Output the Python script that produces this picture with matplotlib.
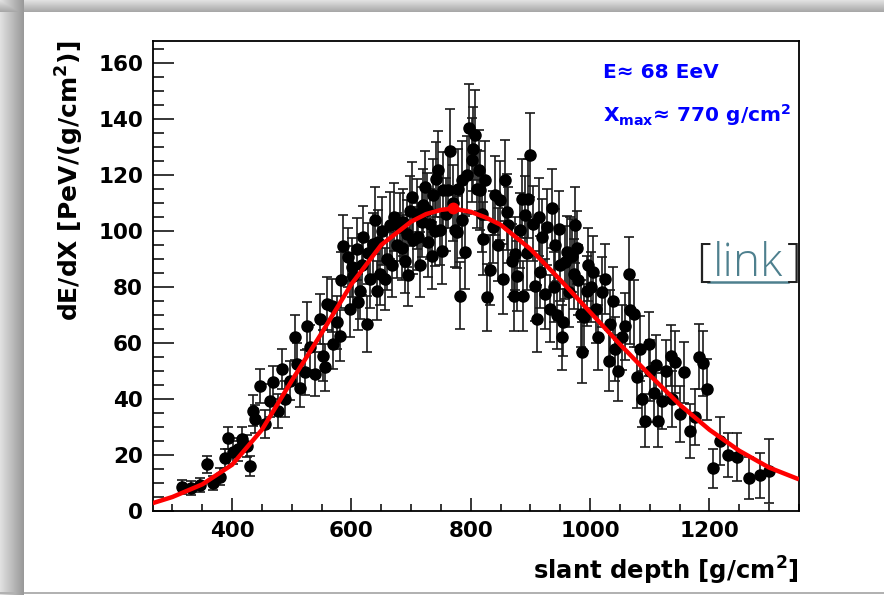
"""
Energy deposit profile of an air shower with its profile fit.
"""
import numpy as np
import matplotlib
matplotlib.use("Agg")
import matplotlib.pyplot as plt
from matplotlib.ticker import MultipleLocator


# Measured points: slant depth [g/cm2], dE/dX [PeV/(g/cm2)], error
depth = [
    315.6, 332, 346, 357.5, 368.6, 379.8, 388, 393.8, 402, 410.5,
    416, 424.6, 430, 435.7, 438.5, 447, 455, 463.6, 469, 477.6,
    483, 488.8, 497, 505.6, 508, 514, 522, 525, 530.7, 539,
    547.5, 553, 556, 558.7, 567, 569.8, 575.5, 581, 582, 586.5,
    595, 598, 600.6, 603, 609, 611.7, 614.5, 617, 620, 625.8,
    628, 631.3, 636.8, 639.7, 642.5, 645, 648, 652, 656.4, 659.3,
    664.8, 668, 672, 676, 681.6, 685, 687, 690, 692.8, 695.5,
    698, 701, 704, 709.6, 712, 715, 718, 720.6, 723.5, 726.3,
    728, 732, 734.7, 737.4, 740.3, 742, 745.8, 748.6, 751.5, 754,
    758, 762.6, 765.4, 770, 774, 776.6, 779, 782, 785, 786,
    790.5, 793.4, 797.8, 802, 804.5, 807.3, 810, 813, 815.7, 818,
    821, 824, 827, 832.5, 836.8, 840.8, 845, 849, 854.8, 857,
    860.4, 863, 869, 871.6, 874.4, 878, 882.5, 885.6, 888, 891.1,
    894, 896.7, 899.5, 905, 908, 910.7, 913.5, 916.3, 920, 924.6,
    927.5, 933, 936, 938.9, 941.4, 945, 947, 949.8, 953, 955.3,
    958.5, 961.2, 964, 966.6, 969.5, 972.3, 975, 978, 980.5, 984,
    986.2, 990, 994.5, 996, 1000.8, 1005.6, 1010, 1014, 1019.7, 1025,
    1030.8, 1033.6, 1038, 1042, 1047.5, 1053, 1058, 1064.4, 1067, 1072.7,
    1078.4, 1084, 1087, 1092, 1098, 1100, 1106.2, 1110, 1113, 1120.3,
    1127.3, 1134.8, 1138, 1142.5, 1149.8, 1157.7, 1166.6, 1176, 1181.6, 1189,
    1195.7, 1205.8, 1218, 1230.3, 1246, 1265.5, 1285, 1300,
]
dedx = [
    8.6, 8.3, 9.3, 16.7, 10.1, 12.2, 18.8, 26, 20.9, 22,
    25.6, 23.3, 16.1, 35.8, 32.8, 44.7, 31, 39.4, 45.9, 35.8,
    50.7, 40, 46.5, 62, 52.5, 44, 49.5, 66.2, 58.4, 48.9,
    68.6, 55.5, 51.3, 74, 73.3, 59.6, 67.4, 62.6, 82.3, 94.5,
    90.6, 72, 87, 84, 93.6, 74.5, 78.7, 88, 97.8, 66.8,
    92, 82.9, 95.4, 103.8, 78.7, 96, 84.7, 100, 82.9, 90,
    102, 88, 105, 94.8, 101.4, 94, 103.1, 89.4, 99, 84.1,
    107, 112.1, 96.6, 106.2, 98, 88, 103.1, 109.1, 115.7, 107.5,
    96, 102.6, 91.2, 112.7, 100, 118.4, 121.6, 100.2, 93, 114.5,
    106, 114.5, 128.4, 110, 100.2, 99.6, 115.1, 76.9, 104, 118,
    92.4, 119.9, 136.6, 125.2, 129.4, 134.2, 115, 121.6, 114.5, 106,
    97.2, 118, 76.3, 85.9, 101.4, 112.7, 95, 110.9, 82.9, 118,
    106.7, 102, 89.4, 76.9, 91.8, 84, 100.2, 111.5, 76.6, 105.5,
    92, 111.5, 127, 102.6, 80.5, 68.6, 105, 85.3, 98, 77.5,
    101.4, 72.2, 108, 79.9, 94.8, 70, 100.8, 88, 62, 67.4,
    88.8, 92.4, 78.1, 91.8, 91.2, 84.7, 102, 94, 82.3, 70.4,
    56.6, 69.2, 78.7, 88, 79.9, 85.3, 72, 62, 78.1, 83,
    53.7, 66.8, 75, 57.9, 50.1, 62, 66, 84.7, 71.6, 70.4,
    47.7, 58, 40, 32.2, 59.6, 50.1, 42.3, 52, 32.2, 39.4,
    50.1, 55.5, 40, 53.1, 34.6, 49.5, 28.6, 33.4, 55.1, 52.7,
    43.4, 15.3, 25, 20, 19.3, 11.9, 12.8, 14.3,
]
dedx_err = [
    2.5, 2.5, 2.5, 3, 2.5, 3, 3.5, 4, 4, 4,
    4.5, 4, 3.5, 5.5, 5, 6, 5, 6, 6, 6,
    7, 6.5, 7, 8, 7.5, 7, 8, 8.5, 8, 8,
    9, 9, 8.5, 9.5, 9.5, 9, 9.5, 9, 10, 11,
    10.5, 10, 10.5, 10.5, 11, 10, 10, 11, 11, 10,
    11, 10.5, 11, 12, 10.5, 11.5, 11, 12, 11, 11,
    12, 11.5, 12, 11.5, 12, 11.5, 12, 11.5, 12, 11,
    12.5, 12.5, 12, 12.5, 12, 11.5, 12.5, 13, 13, 13,
    12.5, 12.5, 12, 13, 12.5, 13.5, 14, 12.5, 12, 13.5,
    13, 13.5, 15, 13.5, 13, 13, 14, 12, 13.5, 14,
    13, 14, 16, 15, 15, 16, 14, 14.5, 14, 13.5,
    13, 14, 12, 12.5, 13, 14, 13, 14, 12.5, 14.5,
    13.5, 13.5, 13, 12.5, 13, 12.5, 13.5, 14, 12.5, 14,
    13, 14, 15, 13.5, 12.5, 12, 14, 13, 13.5, 12.5,
    13.5, 12, 14, 12.5, 13, 12, 13.5, 13, 11.5, 12,
    13, 13, 12.5, 13, 13, 12.5, 13.5, 13, 12.5, 12,
    11, 12, 12.5, 13, 12.5, 13, 12, 11.5, 12.5, 12.5,
    11, 12, 12, 11.5, 11, 11.5, 12, 13, 12, 12,
    11, 11.5, 10, 9.5, 11.5, 11, 10.5, 11, 9.5, 10,
    11, 11, 10, 11, 10, 11, 9.5, 10, 11.5, 11.5,
    11, 7, 8.5, 8, 8.5, 7.5, 8, 11.5,
]

# Profile fit
fit_depth = [267, 300, 350, 400, 450, 500, 550, 600, 650, 700, 725, 750, 770,
             800, 825, 850, 900, 950, 1000, 1050, 1100, 1150, 1200, 1250, 1300, 1350]
fit_dedx = [2.8, 5, 9.5, 16.5, 29, 46.5, 63.5, 81, 95, 103.3, 106, 107.5, 108,
            106.8, 104.8, 102.2, 93.5, 82.5, 71, 59.5, 48.5, 38, 29, 21.5, 15.5, 11.3]
xmax_depth = 770
xmax_dedx = 108

W, H = 884, 595


def fig_xy(px, py):
    # pixel position -> figure fraction
    return px / W, 1 - py / H


plt.rcParams["font.family"] = ["DejaVu Sans"]
plt.rcParams["font.weight"] = "bold"
plt.rcParams["mathtext.fontset"] = "dejavusans"
plt.rcParams["mathtext.default"] = "bf"

fig = plt.figure(figsize=(W / 100, H / 100), dpi=100)
fig.patch.set_facecolor("white")

# Window shadow along the top and left border (light outside, darker inside)
bg = np.ones((H, W, 3))
left_w, top_h = 24, 12
for i in range(left_w):
    bg[:, i, :] = np.minimum(bg[:, i, :], 0.88 - 0.28 * (i / (left_w - 1)))
for j in range(top_h):
    bg[j, :, :] = np.minimum(bg[j, :, :], 0.88 - 0.22 * (j / (top_h - 1)))
bg[592:594, :, :] = np.minimum(bg[592:594, :, :], 0.7)
bax = fig.add_axes((0, 0, 1, 1), zorder=-10)
bax.imshow(bg, aspect="auto", interpolation="nearest")
bax.axis("off")

# Main axes
ax = fig.add_axes((152.7 / W, 1 - 511 / H, (799 - 152.7) / W, (511 - 41) / H))
ax.errorbar(depth, dedx, yerr=dedx_err, fmt="o", color="black", ms=8,
            ecolor="#1a1a1a", elinewidth=1.2, capsize=3.6, capthick=1.2,
            zorder=2)
ax.plot(fit_depth, fit_dedx, color="#ff0000", lw=3.2, zorder=3,
        solid_capstyle="butt")
ax.plot([xmax_depth], [xmax_dedx], "o", color="#ff0000", ms=7.5, zorder=4)

ax.set_xlim(267, 1350)
ax.set_ylim(0, 167.8)

ax.xaxis.set_major_locator(MultipleLocator(200))
ax.xaxis.set_minor_locator(MultipleLocator(50))
ax.yaxis.set_major_locator(MultipleLocator(20))
ax.yaxis.set_minor_locator(MultipleLocator(5))

ax.tick_params(axis="both", which="both", direction="in", top=False,
               right=False, width=1.1, labelsize=15.5)
ax.tick_params(axis="x", which="major", length=9.6, pad=7)
ax.tick_params(axis="x", which="minor", length=4.8)
ax.tick_params(axis="y", which="major", length=14.9, pad=7)
ax.tick_params(axis="y", which="minor", length=7.7)
for lab in ax.get_xticklabels() + ax.get_yticklabels():
    lab.set_fontweight("bold")
for sp in ax.spines.values():
    sp.set_linewidth(1.3)

ax.set_xlabel("slant depth [g/cm$^{2}$]", fontsize=17.5, fontweight="bold",
              ha="right")
ax.xaxis.set_label_coords(1.0, -0.093)
ax.set_ylabel("dE/dX [PeV/(g/cm$^{2}$)]", fontsize=18, fontweight="bold",
              ha="right")
ax.yaxis.set_label_coords(-0.103, 1.0)

# Shower info
fig.text(*fig_xy(602.7, 78.3), "E\u2248 68 EeV", color="#0000ff",
         fontsize=14.5, fontweight="bold", ha="left", va="baseline")
fig.text(*fig_xy(602.7, 121.7), "X$_{max}$\u2248 770 g/cm$^{2}$",
         color="#0000ff", fontsize=14.5, fontweight="bold", ha="left",
         va="baseline")

# Link marker
link_col = "#4e808e"
fig.text(*fig_xy(696, 276), "[", color="#222222", fontsize=33,
         family="Open Sans", fontweight="light", ha="left", va="baseline")
fig.text(*fig_xy(748, 276), "link", color=link_col, fontsize=33,
         family="Open Sans", fontweight="light", ha="center", va="baseline")
fig.text(*fig_xy(801, 276), "]", color="#222222", fontsize=33,
         family="Open Sans", fontweight="light", ha="right", va="baseline")
ux0, uy = fig_xy(708, 282)
ux1, _ = fig_xy(788, 282)
fig.add_artist(plt.Line2D([ux0, ux1], [uy, uy], color=link_col, lw=1.8))

plt.savefig("out.png", dpi=100)
print("success")
